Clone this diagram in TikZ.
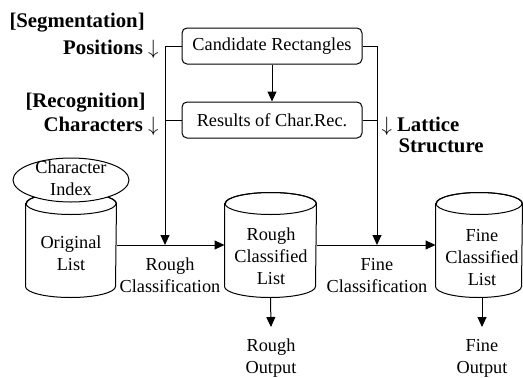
\documentclass[tikz,border=0pt]{standalone}
\usepackage{fontspec}
\setmainfont{Liberation Serif}
\usetikzlibrary{arrows.meta,calc,shapes.geometric}

% upright cylinder outline around an (undrawn) node: #1 = node, #2 = x radius
\newcommand\cylbody[2]{%
  \draw[fill=white] ($(#1.north west)+(0,11)$) -- ($(#1.south west)+(0,-11)$)
    arc[start angle=180,end angle=360,x radius=#2pt,y radius=11pt]
    -- ($(#1.north east)+(0,11)$)
    arc[start angle=0,end angle=180,x radius=#2pt,y radius=11pt] -- cycle;
  \draw ($(#1.north)+(0,11)$) ellipse[x radius=#2pt,y radius=11pt];
}
\newcommand\dnarrow{$\downarrow$}

\begin{document}
\begin{tikzpicture}[x=1pt,y=-1pt,line width=1pt,
  every node/.style={font=\fontsize{18.3}{22}\selectfont,inner sep=0pt},
  txt/.style={align=center},
  boldlbl/.style={font=\fontsize{20.8}{22}\selectfont\bfseries},
  procbox/.style={draw,rounded corners=5pt,minimum width=180pt,minimum height=36pt},
  cylnode/.style={minimum height=104pt},
  arr/.style={-{Triangle[length=10pt,width=9pt]}},
  ]
\useasboundingbox (0,0) rectangle (523,378);

% processing boxes
\node[procbox] (cand) at (272,46) {Candidate Rectangles};
\node[procbox] (res)  at (272,120) {Results of Char.Rec.};
\draw[arr] (cand) -- (res);

% list stores
\node[cylnode,minimum width=90pt] (orig)  at (71,245) {};
\node[cylnode,minimum width=91pt] (rough) at (270.5,245) {};
\node[cylnode,minimum width=86pt] (fine)  at (479,245) {};
\cylbody{orig}{45}
\cylbody{rough}{45.5}
\cylbody{fine}{43}
\node[txt] (origtxt)  at (71,253.5) {Original\\List};
\node[txt] (roughtxt) at (271,256) {Rough\\Classified\\List};
\node[txt] (finetxt)  at (482,257.5) {Fine\\Classified\\List};

% index attached to the original list
\node[draw,ellipse,fill=white,minimum width=116pt,minimum height=44pt] (idx) at (71,180) {};
\node[txt] (idxtxt) at (71,178) {Character\\Index};

% classification stages
\coordinate (rc) at (165,245);
\coordinate (fc) at (377,245);
\draw[arr] (orig.east) -- (rough.west);
\draw[arr] (rough.east) -- (fine.west);
\draw[arr] (cand.west) -| (rc);
\draw (res.west) -- (res.west -| rc);
\draw[arr] (cand.east) -| (fc);
\draw (res.east) -- (res.east -| fc);
\node[txt] (rctxt) at (170,275.5) {Rough\\Classification};
\node[txt] (fctxt) at (377,275.5) {Fine\\Classification};

% outputs
\coordinate (ro) at (271,327);
\coordinate (fo) at (482,327);
\draw[arr] (rough.south) -- (ro);
\draw[arr] (fo |- fine.south) -- (fo);
\node[txt] (rotxt) at (271,358) {Rough\\Output};
\node[txt] (fotxt) at (482,358) {Fine\\Output};

% stage labels
\node[boldlbl,anchor=base west] (seg)  at (9,27) {[Segmentation]};
\node[boldlbl,anchor=base east] (pos)  at (159,54) {Positions \dnarrow};
\node[boldlbl,anchor=base west] (rec)  at (25,107) {[Recognition]};
\node[boldlbl,anchor=base east] (chr)  at (159,131) {Characters \dnarrow};
\node[boldlbl,anchor=base west] (lat)  at (381,131) {\dnarrow\ Lattice};
\node[boldlbl,anchor=base west] (str)  at (398,152) {Structure};
\end{tikzpicture}
\end{document}
